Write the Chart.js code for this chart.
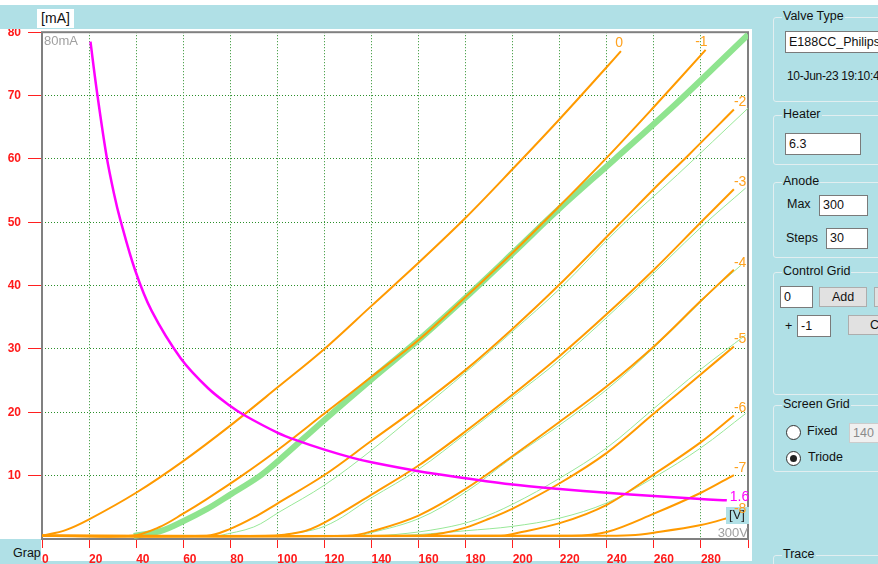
<!DOCTYPE html>
<html>
<head>
<meta charset="utf-8">
<script src="https://cdn.jsdelivr.net/npm/chart.js@4.4.0/dist/chart.umd.min.js"></script>
<style>
  body { margin:0; width:878px; height:564px; overflow:hidden; background:#b0e0e6; position:relative;
         font-family:"Liberation Sans", Arial, sans-serif; font-size:12.5px; color:#111; }
  .abs { position:absolute; white-space:nowrap; }
  #topStrip { left:0; top:0; width:878px; height:5px; background:#fff; }
  #plotBg { left:0; top:29px; width:752px; height:532px; background:#fff; }
  #header { left:0; top:5px; width:752px; height:24px; background:#b0e0e6; z-index:3; }
  #unitBox { left:37px; top:9px; width:37px; height:19px; background:#fff; z-index:4; font-size:14px; line-height:19px; text-align:center; }
  #grap { left:0; top:539px; width:41px; height:25px; background:#b0e0e6; z-index:3; overflow:hidden; }
  #chartWrap { left:0; top:18px; width:752px; height:546px; z-index:2; }
  .group { position:absolute; left:773px; width:200px; border:1px solid #e2eef0; border-radius:3px; }
  .lbl { position:absolute; white-space:nowrap; line-height:15px; }
  .title { background:#b0e0e6; padding:0 1px; }
  .box { position:absolute; background:#fff; border:1px solid #7a7a7a; box-sizing:border-box; padding-left:3px; white-space:nowrap; overflow:hidden; }
  .btn { position:absolute; background:#e1e1e1; border:1px solid #adadad; box-sizing:border-box; text-align:center; white-space:nowrap; }
  .radio { position:absolute; width:15px; height:15px; border-radius:50%; border:1px solid #333; background:#fff; box-sizing:border-box; }
  .radio.on::after { content:""; position:absolute; left:3px; top:3px; width:7px; height:7px; border-radius:50%; background:#222; }
</style>
</head>
<body>
<div id="topStrip" class="abs"></div>
<div id="plotBg" class="abs"></div>
<div id="header" class="abs"></div>
<div id="unitBox" class="abs">[mA]</div>
<div id="grap" class="abs"><span class="lbl" style="left:13px; top:7px;">Graph</span></div>
<div id="chartWrap" class="abs"><canvas id="curveChart" width="752" height="546"></canvas></div>

<!-- right panel -->
<div class="group" style="top:17px; height:83px;"></div>
<div class="lbl title" style="left:782px; top:9px;">Valve Type</div>
<div class="box" style="left:785px; top:31px; width:110px; height:22px; line-height:20px;">E188CC_Philips</div>
<div class="lbl" style="left:787px; top:69px; font-size:12px; letter-spacing:-0.3px;">10-Jun-23 19:10:4</div>

<div class="group" style="top:115px; height:48px;"></div>
<div class="lbl title" style="left:782px; top:107px;">Heater</div>
<div class="box" style="left:785px; top:133px; width:76px; height:22px; line-height:20px;">6.3</div>

<div class="group" style="top:182px; height:74px;"></div>
<div class="lbl title" style="left:782px; top:174px;">Anode</div>
<div class="lbl" style="left:787px; top:197px;">Max</div>
<div class="box" style="left:819px; top:195px; width:49px; height:21px; line-height:19px;">300</div>
<div class="lbl" style="left:786px; top:231px;">Steps</div>
<div class="box" style="left:826px; top:228px; width:42px; height:21px; line-height:19px;">30</div>

<div class="group" style="top:272px; height:121px;"></div>
<div class="lbl title" style="left:782px; top:264px;">Control Grid</div>
<div class="box" style="left:780px; top:286px; width:33px; height:22px; line-height:20px;">0</div>
<div class="btn" style="left:819px; top:287px; width:48px; height:20px; line-height:18px;">Add</div>
<div class="btn" style="left:874px; top:287px; width:48px; height:20px;"></div>
<div class="lbl" style="left:785px; top:319px;">+</div>
<div class="box" style="left:797px; top:315px; width:34px; height:22px; line-height:20px;">-1</div>
<div class="btn" style="left:848px; top:315px; width:74px; height:20px; line-height:18px;">Clear</div>

<div class="group" style="top:405px; height:65px;"></div>
<div class="lbl title" style="left:782px; top:397px;">Screen Grid</div>
<div class="radio" style="left:786px; top:425px;"></div>
<div class="lbl" style="left:807px; top:424px;">Fixed</div>
<div class="box" style="left:849px; top:423px; width:40px; height:20px; line-height:18px; background:#f0f0f0; border-color:#ccc; color:#8a8a8a;">140</div>
<div class="radio on" style="left:786px; top:451px;"></div>
<div class="lbl" style="left:808px; top:450px;">Triode</div>

<div class="group" style="top:555px; height:60px;"></div>
<div class="lbl title" style="left:782px; top:547px;">Trace</div>

<script>
// anode voltage tick values [V] and anode current tick values [mA]
const voltTicks = [0, 20, 40, 60, 80, 100, 120, 140, 160, 180, 200, 220, 240, 260, 280, 300];
const currentTicks = [0, 10, 20, 30, 40, 50, 60, 70, 80];

// grid voltage of each traced curve
const gridLabels = ['0', '-1', '-2', '-3', '-4', '-5', '-6', '-7', '-8'];

// traced curves: [anode V, anode mA]
const curveG0 = [[0,0.5],[10,1.4],[20,3.1],[40,7.3],[60,12.3],[80,17.9],[100,23.9],[120,30],[140,36.8],[160,43.6],[180,50.7],[200,58.4],[220,66.3],[240,74.5],[246,77]];
const curveG1 = [[0,0.5],[38,0.5],[50,1.9],[60,4],[70,6.3],[85,10],[100,14],[120,19.8],[140,25.6],[160,31.4],[180,38.2],[200,45.2],[220,52.6],[240,60.2],[260,68.2],[282,77.2]];
const curveG2 = [[0,0.5],[70,0.5],[80,1.6],[90,3.4],[100,5.6],[120,10.1],[140,15.5],[160,20.9],[180,26.7],[200,33.2],[220,40.2],[245,49.6],[262,56],[275,60.7],[294,67.8]];
const curveG3 = [[0,0.5],[95,0.5],[110,1.1],[120,2.6],[140,7],[160,11.6],[180,17],[200,22.8],[220,28.9],[240,35.5],[260,42.5],[280,50],[294,55.2]];
const curveG4 = [[0,0.5],[130,0.5],[140,1.2],[160,3.7],[180,7.9],[200,13.1],[220,18.5],[240,24.1],[260,30.4],[280,37.6],[294,42.5]];
const curveG5 = [[0,0.5],[160,0.5],[170,0.9],[180,1.8],[190,3.2],[200,4.8],[220,8.8],[240,13.6],[260,19.8],[280,26],[294,30.4]];
const curveG6 = [[0,0.5],[195,0.5],[200,0.8],[220,2.5],[240,5.4],[260,10.2],[280,15.3],[294,19.5]];
const curveG7 = [[0,0.5],[225,0.5],[240,1.1],[260,4],[280,7.3],[294,10.1]];
const curveG8 = [[0,0.5],[235,0.5],[250,0.6],[260,1],[280,2.2],[294,3.6]];

// reference curves (green)
const refG1 = [[39,0.5],[50,1.2],[60,2.8],[70,4.7],[80,7],[92,9.8],[100,12.2],[120,18.8],[140,25.2],[160,31.4],[180,38.1],[200,45.1],[220,52.2],[243.5,60],[270,68.9],[300,79.6]];
const refG2 = [[75,0.5],[90,1.9],[101,4.3],[120,8.5],[140,14],[160,20.1],[180,26.3],[200,32.8],[220,39.5],[245,49],[270,57.5],[300,68]];
const refG3 = [[100,0.5],[120,2],[140,6.5],[160,11],[180,16.6],[200,22.4],[220,28.3],[253,39.5],[280,49.2],[299,55.4]];
const refG4 = [[135,0.5],[160,3.2],[180,7.4],[200,12.9],[220,18],[240,23.6],[260,30.2],[286,39.6],[297,43.2]];
const refG5 = [[135,0.5],[150,0.7],[170,1.7],[185,3.1],[200,5.5],[220,9.6],[240,14.4],[260,20.6],[280,26.8],[299,32.2]];
const refG6 = [[150,0.5],[160,0.7],[180,1.3],[200,2],[220,3.3],[240,5.7],[260,9.7],[280,14.4],[299,19.8]];

// max anode dissipation 1.6 W
const dissipation = [[20.6,78.5],[23.2,71],[27.4,60.5],[30.6,54.5],[33.2,50.5],[39.5,42.5],[46.6,36],[59,28.5],[70.6,23.8],[80,21],[86.2,19.5],[100,16.8],[108,15.6],[120,14.1],[132,12.8],[140,12.1],[160,10.7],[180,9.6],[200,8.6],[220,7.9],[240,7.3],[260,6.8],[280,6.3],[291,6.1]];
const dissipationLabel = '1.6';

const ORANGE = '#ff9a00';
const toXY = pts => pts.map(p => ({ x: p[0], y: p[1] }));

const tracedCurves = [curveG0, curveG1, curveG2, curveG3, curveG4, curveG5, curveG6, curveG7, curveG8];
const refCurves = [refG2, refG3, refG4, refG5, refG6];

const datasets = [];
datasets.push({ data: toXY(dissipation), borderColor: '#ff00ff', borderWidth: 2.5, curveLabel: dissipationLabel, labelColor: '#ff00ff' });
tracedCurves.forEach((c, i) => {
    datasets.push({ data: toXY(c), borderColor: ORANGE, borderWidth: 2, curveLabel: gridLabels[i], labelColor: '#ffa21f' });
});
datasets.push({ data: toXY(refG1), borderColor: '#8fe48f', borderWidth: 6 });
refCurves.forEach(c => {
    datasets.push({ data: toXY(c), borderColor: '#98e898', borderWidth: 1 });
});

// frame, in-plot texts and curve labels
const plotDecor = {
    id: 'plotDecor',
    beforeDatasetsDraw(chart) {
        const { ctx, chartArea: a } = chart;
        ctx.save();
        ctx.strokeStyle = '#808080';
        ctx.lineWidth = 2;
        ctx.strokeRect(a.left, a.top, a.right - a.left, a.bottom - a.top);
        ctx.restore();
    },
    afterDatasetsDraw(chart) {
        const { ctx, chartArea: a } = chart;
        ctx.save();
        ctx.font = '13px "Liberation Sans", Arial';
        ctx.fillStyle = '#a0a0a0';
        ctx.textBaseline = 'top';
        ctx.textAlign = 'left';
        ctx.fillText('80mA', a.left + 2, a.top + 3);

        ctx.fillStyle = '#b0e0e6';
        ctx.fillRect(a.right - 22, a.bottom - 32, 23, 17);
        ctx.fillStyle = '#222';
        ctx.textAlign = 'center';
        ctx.fillText('[V]', a.right - 11, a.bottom - 30);

        ctx.fillStyle = '#a0a0a0';
        ctx.textAlign = 'right';
        ctx.textBaseline = 'alphabetic';
        ctx.fillText('300V', a.right, a.bottom - 2);

        ctx.font = '14px "Liberation Sans", Arial';
        chart.data.datasets.forEach((ds, i) => {
            if (!ds.curveLabel) return;
            const pts = chart.getDatasetMeta(i).data;
            const end = pts[pts.length - 1];
            ctx.fillStyle = ds.labelColor;
            if (ds.curveLabel === dissipationLabel) {
                ctx.textAlign = 'left';
                ctx.fillText(ds.curveLabel, end.x + 3, end.y + 1);
            } else if (end.x < a.right - 30) {
                ctx.textAlign = 'right';
                ctx.fillText(ds.curveLabel, end.x + 2, end.y - 4);
            } else {
                ctx.textAlign = 'left';
                ctx.fillText(ds.curveLabel, end.x, end.y - 3);
            }
        });
        ctx.restore();
    }
};

const tickFont = { family: 'Liberation Sans', size: 12, weight: 'bold' };

new Chart(document.getElementById('curveChart'), {
    type: 'line',
    data: { datasets: datasets },
    options: {
        responsive: false,
        animation: false,
        events: [],
        layout: { padding: { top: 12, right: 3, left: 0, bottom: 0 } },
        elements: {
            point: { radius: 0 },
            line: { tension: 0.35, fill: false }
        },
        plugins: { legend: { display: false }, tooltip: { enabled: false } },
        scales: {
            x: {
                type: 'linear', min: 0, max: 300,
                afterBuildTicks: s => { s.ticks = voltTicks.map(v => ({ value: v })); },
                afterFit: s => { s.height = 25; },
                grid: { color: '#2a8f2a', tickColor: '#ff2020', tickLength: 9, tickWidth: 1, tickBorderDash: [] },
                border: { display: false, dash: [1, 2] },
                ticks: {
                    color: '#ff1a1a', font: tickFont, align: 'start', padding: 4, maxRotation: 0, autoSkip: false,
                    callback: v => (v === 300 ? '' : String(v))
                }
            },
            y: {
                type: 'linear', min: 0, max: 80,
                afterBuildTicks: s => { s.ticks = currentTicks.map(v => ({ value: v })); },
                afterFit: s => { s.width = 42; },
                grid: { color: '#2a8f2a', tickColor: '#ff2020', tickLength: 14, tickWidth: 1, tickBorderDash: [] },
                border: { display: false, dash: [1, 2] },
                ticks: {
                    color: '#ff1a1a', font: tickFont, padding: 7, autoSkip: false,
                    callback: v => (v === 0 ? '' : String(v))
                }
            }
        }
    },
    plugins: [plotDecor]
});
</script>
</body>
</html>
